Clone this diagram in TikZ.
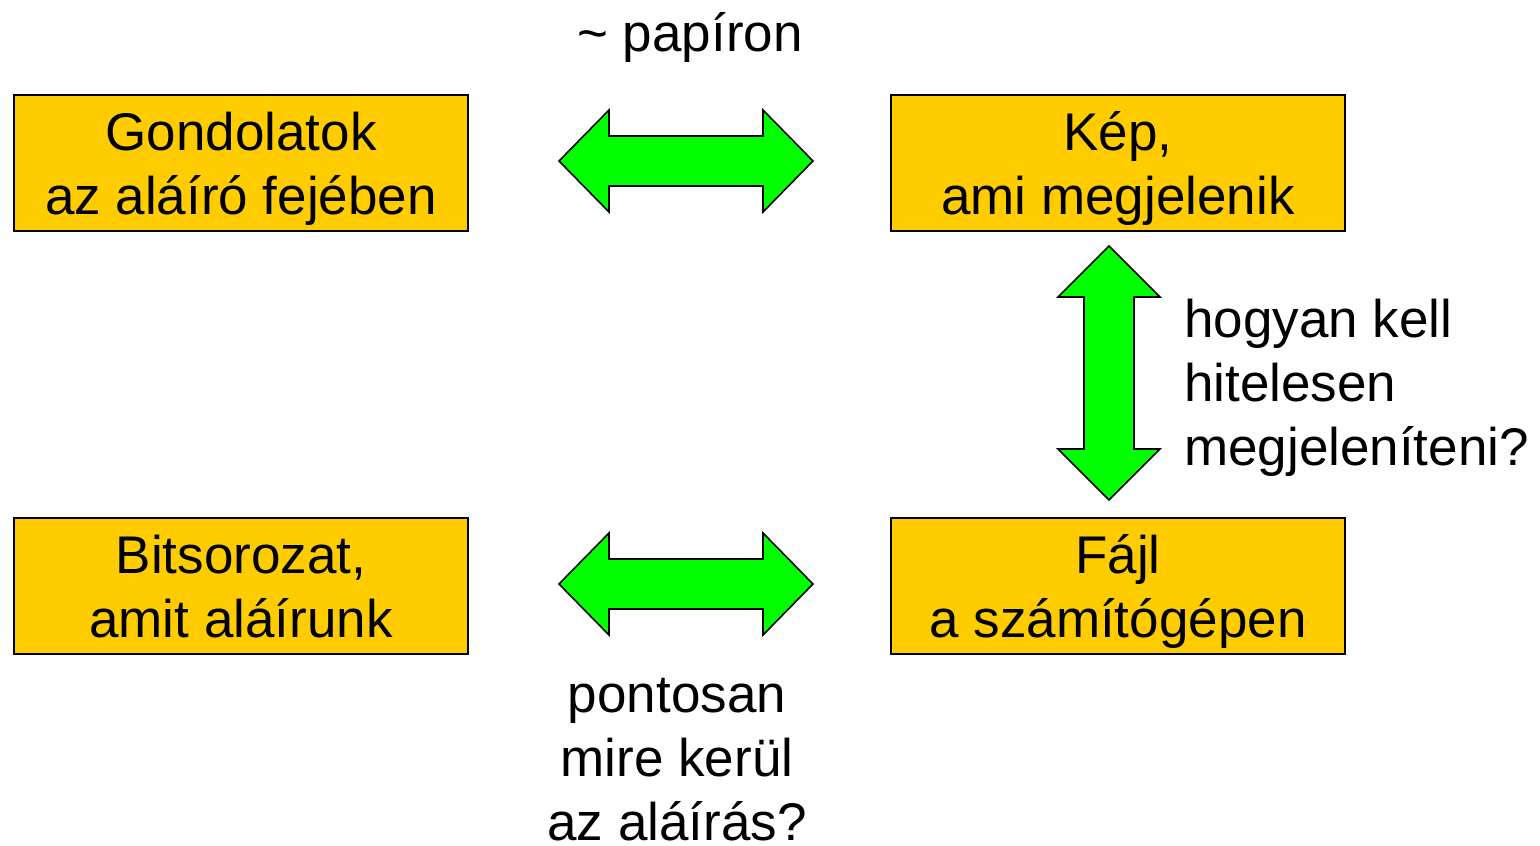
\documentclass[tikz,border=0pt]{standalone}
\usepackage{fontspec}
\setmainfont{Liberation Sans}
\definecolor{boxfill}{HTML}{FFCC00}
\definecolor{arrowfill}{HTML}{00FF00}
\tikzset{
  box/.style={draw=black, line width=1.6pt, fill=boxfill, minimum width=454pt,
    minimum height=136pt, inner sep=0pt, align=center, text depth=0pt,
    font=\fontsize{53}{64}\selectfont},
  label/.style={inner sep=0pt, font=\fontsize{53}{64}\selectfont},
  fatarrow/.style={draw=black, line width=1.6pt, fill=arrowfill, line join=miter},
}
\begin{document}
\begin{tikzpicture}[x=1pt, y=-1pt]
  \useasboundingbox (0,0) rectangle (1540,846);

  % the four boxes
  \node[box] (thoughts) at (241,163) {Gondolatok\\az aláíró fejében};
  \node[box] (image)    at (1118,163) {Kép,\\ami megjelenik};
  \node[box] (bits)     at (241,586) {Bitsorozat,\\amit aláírunk};
  \node[box] (file)     at (1118,586) {Fájl\\a számítógépen};

  % horizontal double arrows
  \foreach \cy in {161,584} {
    \draw[fatarrow] (559,\cy) -- (609,\cy-51) -- (609,\cy-25) -- (763,\cy-25)
      -- (763,\cy-51) -- (813,\cy) -- (763,\cy+51) -- (763,\cy+25)
      -- (609,\cy+25) -- (609,\cy+51) -- cycle;
  }
  % vertical double arrow
  \draw[fatarrow] (1109,246) -- (1160,297) -- (1134,297) -- (1134,449)
    -- (1160,449) -- (1109,500) -- (1058,449) -- (1084,449) -- (1084,297)
    -- (1058,297) -- cycle;

  % annotations (multi-line nodes are anchored on their last baseline)
  \node[label, anchor=base] (paper) at (690,51) {\char"007E{} papíron};
  \node[label, anchor=base west, align=left] (howto) at (1184,465)
    {hogyan kell\\hitelesen\\megjeleníteni?};
  \node[label, anchor=base, align=center, text depth=0pt] (where) at (677,840)
    {pontosan\\mire kerül\\az aláírás?};
\end{tikzpicture}
\end{document}
